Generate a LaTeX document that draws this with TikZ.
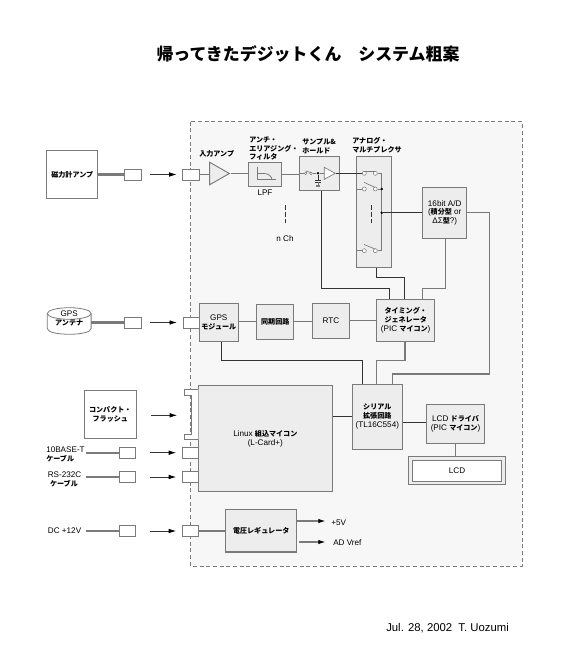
\documentclass[tikz,border=0pt]{standalone}
\usepackage{fontspec}
\setmainfont{Liberation Sans}
\newfontfamily\jpfont{Noto Sans CJK JP}
\newcommand{\jp}[1]{{\jpfont\bfseries\fontsize{5.3}{6.5}\selectfont #1}}
\usetikzlibrary{arrows.meta,shapes.geometric}
\definecolor{Edge}{HTML}{7A7A7A}
\definecolor{Wire}{HTML}{333333}
\definecolor{BlockFill}{HTML}{EDEDED}
\definecolor{PanelFill}{HTML}{F7F7F7}
\tikzset{
  size/.style 2 args={minimum width=#1*0.75pt, minimum height=#2*0.75pt},
  block/.style={draw=Edge, fill=BlockFill, line width=0.7pt, inner sep=0pt, align=center},
  plain/.style={block, fill=white},
  conn/.style={block, fill=white, size={16.5}{11}},
  lbl/.style={inner sep=0pt, align=left, anchor=west},
  cable/.style={draw=Edge, line width=1.8pt},
  link/.style={draw=Edge, line width=0.9pt},
  wire/.style={draw=Wire, line width=0.6pt},
  tip/.style={-{Latex[length=5.5pt,width=3.4pt,color=black]}},
  flow/.style={draw=Wire, line width=0.5pt, tip, shorten <=6.2pt, shorten >=4.3pt},
  dots/.style={draw=Wire, line width=0.5pt, dash pattern=on 3.4pt off 2pt},
  contact/.style={circle, draw=Edge, fill=white, line width=0.4pt, minimum size=3pt, inner sep=0pt},
  joint/.style={circle, fill=black, minimum size=2pt, inner sep=0pt},
  sw/.style={draw=Edge, line width=0.5pt}
}

\begin{document}
\begin{tikzpicture}[x=0.75pt, y=-0.75pt, every node/.style={font=\fontsize{6.1}{6.5}\selectfont}]
  \useasboundingbox (0,0) rectangle (576,646);
  \draw[Edge, fill=PanelFill, line width=0.4pt, dash pattern=on 3pt off 2pt] (190.7,121.7) rectangle (522,566);

  \node[inner sep=0pt, font=\jpfont\bfseries\fontsize{12.7}{14}\selectfont] (title) at (308,54) {帰ってきたデジットくん　システム粗案};
  \node[lbl, font=\fontsize{8.5}{10}\selectfont] (date) at (386,628) {Jul. 28, 2002\ \ T. Uozumi};

  \node[plain, size={51.3}{48}] (mag) at (72.3,174.5) {\jp{磁力計アンプ}};
  \node[conn] (magplug) at (133.2,174.5) {};
  \node[conn] (magin) at (191,174.5) {};
  \node[block, isosceles triangle, isosceles triangle stretches, size={22.5}{19.7}] (amp) at (216.2,173.5) {};
  \node[block, size={33.3}{24.7}] (lpf) at (265.3,174.6) {};
  \node[block, size={40.4}{34.7}] (sh) at (319.5,173.6) {};
  \node[block, size={35}{111.4}] (mux) at (374.2,212) {};
  \node[block, size={44}{51}] (adc) at (444.7,212.8) {16bit A/D\\(\jp{積分型} or\\ΔΣ\jp{型}?)};

  \node[block, size={39}{38}] (gpsmod) at (218.8,322.3) {GPS\\\jp{モジュール}};
  \node[block, size={37.3}{35}] (sync) at (275.3,321.8) {\jp{同期回路}};
  \node[block, size={37.4}{35}] (rtc) at (331,320.8) {RTC};
  \node[block, size={58}{42.3}] (timing) at (405.7,320.2) {\jp{タイミング・}\\\jp{ジェネレータ}\\(PIC \jp{マイコン})};
  \draw[Edge, fill=white, line width=0.6pt] (47.3,313.5) -- (47.3,328.5) .. controls (47.3,336.2) and (91.1,336.2) .. (91.1,328.5) -- (91.1,313.5);
  \draw[Edge, fill=white, line width=0.6pt] (69.2,313.5) ellipse [x radius=21.9, y radius=5.8];
  \node[size={43.7}{26.6}, inner sep=0pt, align=center] (ant) at (69.2,318.2) {GPS\\\jp{アンテナ}};
  \node[conn] (antplug) at (133.2,322.5) {};
  \node[conn] (gpsin) at (191.3,322.5) {};

  \node[block, size={134}{106.4}] (linux) at (265.3,438.5) {Linux \jp{組込マイコン}\\(L-Card+)};
  \node[block, size={50}{65}] (serial) at (377.3,416.5) {\jp{シリアル}\\\jp{拡張回路}\\(TL16C554)};
  \node[block, size={58.4}{39}] (driver) at (455.5,423.8) {LCD \jp{ドライバ}\\(PIC \jp{マイコン})};
  \node[plain, size={97.4}{27.6}, fill=BlockFill] (lcdcase) at (457,470.5) {};
  \node[plain, size={89.4}{21}] (lcd) at (457,470.8) {LCD};

  \node[plain, size={52}{48}] (cf) at (110.3,414.3) {\jp{コンパクト・}\\\jp{フラッシュ}};
  \draw[Edge, fill=white, line width=0.6pt] (198.3,389) -- (184,389) -- (184,395.5) -- (191,395.5) -- (191,434.5) -- (184,434.5) -- (184,439.5) -- (198.3,439.5);
  \coordinate (slot) at (184,415.3);

  \node[conn] (ethplug) at (127.5,452.7) {};
  \node[conn] (ethin) at (190.5,452.7) {};
  \node[conn] (rsplug) at (127.5,477) {};
  \node[conn] (rsin) at (190.5,477) {};
  \node[conn] (dcplug) at (127.5,531) {};
  \node[conn] (dcin) at (190.5,531) {};
  \node[block, size={71}{42.7}, line width=0.9pt] (reg) at (261.2,530.6) {\jp{電圧レギュレータ}};

  \node[lbl] (ethlbl) at (46,454.5) {10BASE-T\\\jp{ケーブル}};
  \node[lbl] (rslbl) at (47.5,479.5) {RS-232C\\\ \jp{ケーブル}};
  \node[lbl] (dclbl) at (47.7,530.7) {DC +12V};
  \node[lbl] (vfive) at (331,522.5) {+5V};
  \node[lbl] (vref) at (333,543) {AD Vref};

  \node[inner sep=0pt] (amplbl) at (216.7,154) {\jp{入力アンプ}};
  \node[lbl] (lpftop) at (249,148.7) {\jp{アンチ・}\\\jp{エリアジング・}\\\jp{フィルタ}};
  \node[inner sep=0pt] (lpflbl) at (265,193) {LPF};
  \node[lbl] (shlbl) at (302,146.3) {\jp{サンプル\&}\\\jp{ホールド}};
  \node[lbl] (muxlbl) at (352,145) {\jp{アナログ・}\\\jp{マルチプレクサ}};
  \node[inner sep=0pt] (nch) at (285,239) {n Ch};

  \coordinate (ethend) at (86,452.7);
  \coordinate (rsend) at (86,477);
  \coordinate (dcend) at (86,531);
  \draw[cable] (mag.east) -- (magplug.west);
  \draw[cable] (ant.east |- antplug) -- (antplug.west);
  \draw[cable] (ethend) -- (ethplug.west);
  \draw[cable] (rsend) -- (rsplug.west);
  \draw[cable] (dcend) -- (dcplug.west);
  \draw[flow] (magplug.east) -- (magin.west);
  \draw[flow] (antplug.east) -- (gpsin.west);
  \draw[flow, shorten <=10.3pt, shorten >=5.2pt] (cf.east |- slot) -- (slot);
  \draw[flow, shorten <=10.7pt] (ethplug.east) -- (ethin.west);
  \draw[flow, shorten <=10.7pt] (rsplug.east) -- (rsin.west);
  \draw[flow, shorten <=10.7pt] (dcplug.east) -- (dcin.west);

  \draw[link] (magin.east) -- (amp.west |- magin);
  \draw[link] (amp.apex) -- (lpf.west |- amp.apex);
  \draw[link] (lpf.east) -- (sh.west |- lpf.east);
  \draw[link] (gpsmod.east |- sync) -- (sync.west);
  \draw[link] (sync.east) -- (rtc.west |- sync.east);
  \draw[link] (rtc.east) -- (timing.west |- rtc.east);
  \draw[link] (dcin.east) -- (reg.west |- dcin.east);
  \draw[link] (driver.south) -- (lcdcase.north -| driver.south);
  \coordinate (drvin) at ([shift={(0,-1.5)}]driver.west);
  \draw[wire] (linux.east |- serial) -- (serial.west);
  \draw[wire] (serial.east |- drvin) -- (drvin);

  \draw[wire] ([shift={(1.8,0)}]sh.south) -- ++(0,97.3) -| ([shift={(-16.4,0)}]timing.north);
  \draw[wire] ([shift={(1.8,0)}]mux.south) -- ++(0,9.6) -| ([shift={(-1,0)}]timing.north);
  \draw[link] ([shift={(0.6,0)}]adc.south) -- ++(0,50) -| ([shift={(17,0)}]timing.north);
  \draw[link] ([shift={(-0.7,0)}]timing.south) -- ++(0,19) -| ([shift={(-0.6,0)}]serial.north);
  \draw[wire] ([shift={(2.9,0)}]gpsmod.south) -- ++(0,19) -| ([shift={(-14.6,0)}]serial.north);
  \draw[link] (adc.east) -- ++(22.3,0) -- ++(0,161.2) -| ([shift={(15,0)}]serial.north);

  \draw[link, tip] ([shift={(0,-9.6)}]reg.east) -- ++(28.3,0);
  \draw[link, tip] ([shift={(1.3,11.4)}]reg.east) -- ++(27,0);

  % filter curve
  \draw[sw, line width=0.6pt] (257.3,166.7) -- (257.3,179.3) -- (276,179.3);
  \draw[sw, line width=0.6pt] (257.3,173.5) -- (264,173.5) .. controls (269,173.7) and (271,176) .. (272,179.3);

  % sample and hold
  \node[draw=Edge, fill=white, line width=0.5pt, isosceles triangle, isosceles triangle stretches, inner sep=0pt, size={12}{11}] (shamp) at (327.8,173.3) {};
  \node[contact, minimum size=2pt] (sha) at (305.7,173.3) {};
  \node[contact, minimum size=2pt] (shb) at (311,173.3) {};
  \node[joint] (shj) at (318,173.3) {};
  \draw[sw] (sh.west |- sha) -- (sha.west);
  \draw[sw] (305.7,171) -- (311,172.6);
  \draw[sw] (shb.east) -- (shj) -- (shamp.west);
  \draw[wire] (shj) -- (318,180);
  \draw[wire] (315,180) -- (321,180);
  \draw[wire] (315,182.3) -- (321,182.3);
  \draw[sw] (318,182.3) -- (318,185);
  \draw[sw, line width=1pt] (316,186) -- (320,186);

  % switches
  \foreach \n/\ypos in {a/173.3, b/189, c/250.7} {
    \node[contact] (mux\n l) at (364.3,\ypos) {};
    \node[contact] (mux\n r) at (375.3,\ypos) {};
    \draw[sw] (mux.west |- mux\n l) -- (mux\n l.west);
    \draw[sw] (mux\n r.east) -- (381.7,\ypos);
  }
  \draw[sw] (muxal.north) -- (muxar.north);
  \draw[sw] (364,182.3) -- (375,187.4);
  \draw[sw] (364,244.5) -- (375,249);
  \draw[sw] (381.7,173.3) -- (381.7,250.7);
  \node[joint] (muxjb) at (381.7,189) {};
  \node[joint] (muxout) at (381.7,212.8) {};
  \draw[wire] (shamp.apex) -- (muxal.west);
  \draw[wire] (muxout) -- (adc.west);

  \draw[dots] (285.5,205) -- (285.5,223);
  \draw[dots] (371.7,205) -- (371.7,223);
\end{tikzpicture}
\end{document}
